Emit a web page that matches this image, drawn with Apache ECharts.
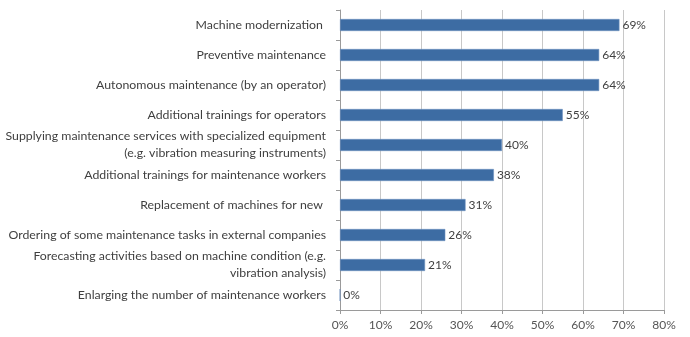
<!DOCTYPE html>
<html>
<head>
<meta charset="utf-8">
<script src="https://cdn.jsdelivr.net/npm/echarts@6/dist/echarts.min.js"></script>
<style>
  html, body { margin: 0; padding: 0; background: #ffffff; }
  #chart { width: 690px; height: 337px; }
</style>
</head>
<body>
<div id="chart"></div>
<script>
// Maintenance measures, listed top to bottom
const categories = [
  'Machine modernization ',
  'Preventive maintenance',
  'Autonomous maintenance (by an operator)',
  'Additional trainings for operators',
  'Supplying maintenance services with specialized equipment\n(e.g. vibration measuring instruments)',
  'Additional trainings for maintenance workers',
  'Replacement of machines for new ',
  'Ordering of some maintenance tasks in external companies',
  'Forecasting activities based on machine condition (e.g.\nvibration analysis)',
  'Enlarging the number of maintenance workers'
];
// Share of respondents, percent
const shares = [69, 64, 64, 55, 40, 38, 31, 26, 21, 0];
// Horizontal axis range and step, percent
const axisMin = 0;
const axisMax = 80;
const axisStep = 10;

const textColor = '#3f3f3f';
const fontFamily = 'Lato, "Open Sans", sans-serif';

const chart = echarts.init(document.getElementById('chart'), null, { renderer: 'canvas' });
chart.setOption({
  animation: false,
  backgroundColor: '#ffffff',
  grid: { left: 340, right: 26, top: 10, bottom: 27, containLabel: false },
  xAxis: {
    type: 'value',
    min: axisMin,
    max: axisMax,
    interval: axisStep,
    axisLine: { show: true, lineStyle: { color: '#9a9a9a', width: 1 } },
    axisTick: { show: true, length: 4, lineStyle: { color: '#9a9a9a' } },
    splitLine: { show: true, lineStyle: { color: '#c8c8c8', width: 1 } },
    axisLabel: {
      formatter: '{value}%',
      color: '#555555',
      fontFamily: fontFamily,
      fontSize: 12,
      margin: 9
    }
  },
  yAxis: {
    type: 'category',
    inverse: true,
    data: categories,
    axisLine: { show: true, lineStyle: { color: '#9a9a9a', width: 1 } },
    axisTick: { show: true, length: 4, alignWithLabel: false, lineStyle: { color: '#9a9a9a' } },
    axisLabel: {
      color: textColor,
      fontFamily: fontFamily,
      fontSize: 12.3,
      lineHeight: 17,
      margin: 14,
      align: 'right'
    }
  },
  series: [{
    type: 'bar',
    data: shares,
    barWidth: 12,
    itemStyle: { color: '#3d6ca3', borderColor: '#6e92c0', borderWidth: 0.6 },
    label: {
      show: true,
      position: 'right',
      distance: 3,
      formatter: '{c}%',
      color: textColor,
      fontFamily: fontFamily,
      fontSize: 12
    }
  }]
});
</script>
</body>
</html>
